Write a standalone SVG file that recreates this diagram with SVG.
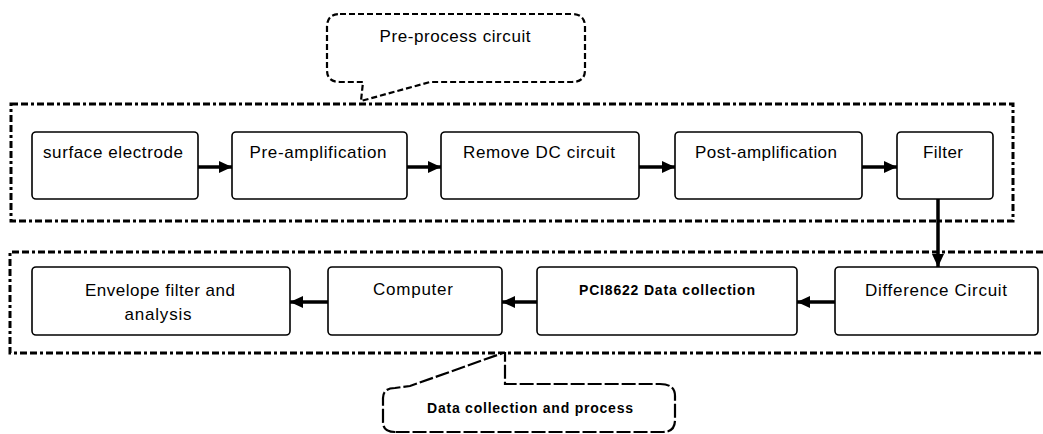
<svg xmlns="http://www.w3.org/2000/svg" width="1043" height="434" viewBox="0 0 1043 434">
<style>
.bg{fill:#fff}
.group{fill:none;stroke:#000;stroke-width:3;stroke-dasharray:7 3 7 3 3 3}
.callout{fill:#fff;stroke:#000;stroke-width:2.2;stroke-dasharray:6 3}
.callout2{fill:#fff;stroke:#000;stroke-width:2.2;stroke-dasharray:14 3}
.box{fill:#fff;stroke:#000;stroke-width:1.6}
.t{font-family:"Liberation Sans",Arial,sans-serif;font-size:17px;fill:#000;text-anchor:middle}
.tb{font-family:"Liberation Sans",Arial,sans-serif;font-size:14px;font-weight:bold;fill:#000;text-anchor:middle}
.conn{stroke:#000;stroke-width:3.5;fill:none}
</style>
<defs>
<marker id="ah" markerUnits="userSpaceOnUse" markerWidth="13" markerHeight="12" refX="13" refY="6" orient="auto">
<path d="M0,0 L13,6 L0,12 Z" fill="#000"/>
</marker>
</defs>
<rect class="bg" x="0" y="0" width="1043" height="434"/>

<g id="preprocess-group">
<rect class="group" x="11" y="104" width="1002" height="117"/>
</g>
<g id="datacollection-group">
<path class="group" d="M1043,252 H10 V353 H1043"/>
</g>

<g id="callout-preprocess">
<path class="callout" d="M340,14 H572 Q585,14 585,27 V70 Q585,82 572,82 H430 L361,101 L363,82 H340 Q327,82 327,70 V27 Q327,14 340,14 Z"/>
<text class="t" x="455" y="42" textLength="151" lengthAdjust="spacing">Pre-process circuit</text>
</g>

<g id="callout-datacollection">
<path class="callout2" d="M395,432 Q383,432 383,422 V398 Q383,388 395,388 L410,386 L503,353 L505,353 V384 H660 Q675,384 675,396 V420 Q675,432 663,432 Z"/>
<text class="tb" x="530" y="413" textLength="206" lengthAdjust="spacing">Data collection and process</text>
</g>

<g id="connectors">
<line class="conn" x1="198" y1="167" x2="232" y2="167" marker-end="url(#ah)"/>
<line class="conn" x1="407" y1="167" x2="441" y2="167" marker-end="url(#ah)"/>
<line class="conn" x1="639" y1="167" x2="675" y2="167" marker-end="url(#ah)"/>
<line class="conn" x1="862" y1="167" x2="897" y2="167" marker-end="url(#ah)"/>
<line class="conn" x1="938" y1="199" x2="938" y2="267" marker-end="url(#ah)"/>
<line class="conn" x1="835" y1="302" x2="797" y2="302" marker-end="url(#ah)"/>
<line class="conn" x1="537" y1="302" x2="502" y2="302" marker-end="url(#ah)"/>
<line class="conn" x1="328" y1="302" x2="290" y2="302" marker-end="url(#ah)"/>
</g>

<g id="surface-electrode">
<rect class="box" x="32" y="132" width="166" height="67" rx="4"/>
<text class="t" x="113" y="158" textLength="140" lengthAdjust="spacing">surface electrode</text>
</g>
<g id="pre-amplification">
<rect class="box" x="232" y="132" width="175" height="67" rx="4"/>
<text class="t" x="318" y="158" textLength="137" lengthAdjust="spacing">Pre-amplification</text>
</g>
<g id="remove-dc">
<rect class="box" x="441" y="132" width="198" height="67" rx="4"/>
<text class="t" x="539" y="158" textLength="152" lengthAdjust="spacing">Remove DC circuit</text>
</g>
<g id="post-amplification">
<rect class="box" x="675" y="132" width="187" height="67" rx="4"/>
<text class="t" x="766" y="158" textLength="142" lengthAdjust="spacing">Post-amplification</text>
</g>
<g id="filter">
<rect class="box" x="897" y="132" width="96" height="67" rx="4"/>
<text class="t" x="943" y="158" textLength="40" lengthAdjust="spacing">Filter</text>
</g>

<g id="difference-circuit">
<rect class="box" x="835" y="267" width="203" height="68" rx="4"/>
<text class="t" x="936" y="296" textLength="142" lengthAdjust="spacing">Difference Circuit</text>
</g>
<g id="pci8622">
<rect class="box" x="537" y="267" width="260" height="68" rx="4"/>
<text class="tb" x="667" y="295" textLength="176" lengthAdjust="spacing">PCI8622 Data collection</text>
</g>
<g id="computer">
<rect class="box" x="328" y="267" width="174" height="68" rx="4"/>
<text class="t" x="413" y="295" textLength="80" lengthAdjust="spacing">Computer</text>
</g>
<g id="envelope">
<rect class="box" x="32" y="267" width="258" height="68" rx="4"/>
<text class="t" x="160" y="296" textLength="150" lengthAdjust="spacing">Envelope filter and</text>
<text class="t" x="158" y="320" textLength="67" lengthAdjust="spacing">analysis</text>
</g>
</svg>
